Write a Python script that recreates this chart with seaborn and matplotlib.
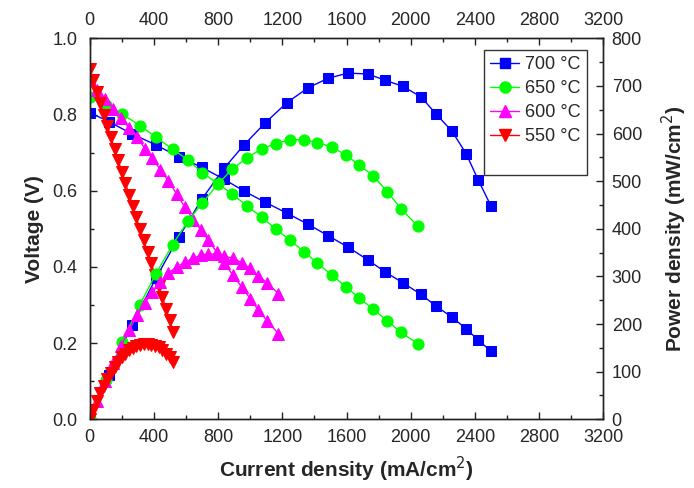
import pandas as pd
import seaborn as sns
import matplotlib.pyplot as plt
from matplotlib.lines import Line2D
from matplotlib.ticker import MultipleLocator

# current density (mA/cm2), voltage (V) and power density (mW/cm2) per temperature
i_700 = [0, 120, 264, 413, 556, 700, 837, 961, 1092, 1229, 1360, 1485, 1609, 1734, 1840,
         1952, 2064, 2158, 2257, 2345, 2420, 2500]
v_700 = [0.805, 0.781, 0.749, 0.720, 0.689, 0.661, 0.630, 0.599, 0.570, 0.541, 0.512, 0.482,
         0.452, 0.418, 0.387, 0.358, 0.328, 0.297, 0.268, 0.238, 0.208, 0.179]
p_700 = [0, 94, 198, 297, 383, 463, 527, 576, 622, 665, 696, 716, 727, 725, 712, 699, 677,
         641, 605, 558, 503, 448]

i_650 = [0, 100, 203, 313, 413, 517, 611, 702, 798, 888, 978, 1072, 1161, 1248, 1335, 1418,
         1508, 1595, 1680, 1767, 1854, 1940, 2045]
v_650 = [0.847, 0.825, 0.801, 0.771, 0.740, 0.709, 0.681, 0.647, 0.619, 0.591, 0.561, 0.530,
         0.499, 0.470, 0.440, 0.410, 0.379, 0.348, 0.318, 0.289, 0.258, 0.228, 0.198]
p_650 = [0, 83, 163, 241, 306, 367, 416, 454, 494, 525, 549, 568, 579, 587, 587, 581, 572,
         555, 534, 511, 478, 442, 405]

i_600 = [0, 45, 95, 145, 195, 245, 295, 345, 390, 440, 490, 542, 594, 645, 692, 739, 791,
         837, 891, 947, 999, 1050, 1107, 1175]
v_600 = [0.89, 0.865, 0.84, 0.815, 0.79, 0.765, 0.74, 0.71, 0.685, 0.655, 0.626, 0.591,
         0.556, 0.524, 0.498, 0.47, 0.439, 0.410, 0.379, 0.347, 0.317, 0.287, 0.258, 0.225]
p_600 = [0, 39, 80, 118, 154, 187, 218, 245, 267, 288, 307, 320, 330, 338, 345, 347, 347,
         343, 338, 329, 317, 301, 286, 264]

i_550 = [0, 22, 44, 66, 88, 110, 132, 155, 177, 200, 222, 245, 268, 290, 313, 336, 360, 383,
         406, 430, 453, 476, 499, 521]
v_550 = [0.92, 0.89, 0.86, 0.83, 0.80, 0.77, 0.74, 0.71, 0.68, 0.65, 0.62, 0.59, 0.56, 0.53,
         0.50, 0.47, 0.44, 0.41, 0.38, 0.35, 0.32, 0.29, 0.26, 0.23]
p_550 = [0, 20, 38, 55, 70, 85, 98, 110, 120, 130, 138, 145, 150, 154, 157, 158, 158, 157,
         154, 151, 145, 138, 130, 120]

labels = ['700 °C', '650 °C', '600 °C', '550 °C']
colors = ['#0000ff', '#00ff00', '#ff00ff', '#ff0000']
markers = ['s', 'o', '^', 'v']
msizes = [7, 8, 8, 8]

series = [(i_700, v_700, p_700), (i_650, v_650, p_650), (i_600, v_600, p_600), (i_550, v_550, p_550)]

sns.set_style('ticks')
plt.rcParams['font.family'] = ['Liberation Sans', 'DejaVu Sans']
plt.rcParams['xtick.direction'] = 'in'
plt.rcParams['ytick.direction'] = 'in'

fig, ax = plt.subplots(figsize=(6.94, 4.88), dpi=100)
fig.subplots_adjust(left=0.1293, right=0.8693, top=0.9215, bottom=0.1408)
ax2 = ax.twinx()

handles = []
for (cur, volt, powr), lab, c, m, ms in zip(series, labels, colors, markers, msizes):
    df = pd.DataFrame({'current': cur, 'voltage': volt, 'power': powr})
    sns.lineplot(data=df, x='current', y='voltage', ax=ax, color=c, marker=m, markersize=ms,
                 markeredgecolor=c, linewidth=1, sort=False, legend=False)
    sns.lineplot(data=df, x='current', y='power', ax=ax2, color=c, marker=m, markersize=ms,
                 markeredgecolor=c, linewidth=1, sort=False, legend=False)
    handles.append(Line2D([], [], color=c, marker=m, markersize=ms, markeredgecolor=c,
                          linewidth=1, label=lab))
# blank row, the original legend box has empty space at the bottom
handles.append(Line2D([], [], linestyle='none', label=' '))

ax.set_xlim(0, 3200)
ax.set_ylim(0, 1.0)
ax2.set_ylim(0, 800)

ax.xaxis.set_major_locator(MultipleLocator(400))
ax.xaxis.set_minor_locator(MultipleLocator(200))
ax.yaxis.set_major_locator(MultipleLocator(0.2))
ax.yaxis.set_minor_locator(MultipleLocator(0.1))
ax2.yaxis.set_major_locator(MultipleLocator(100))
ax2.yaxis.set_minor_locator(MultipleLocator(50))
ax.yaxis.set_major_formatter(plt.FormatStrFormatter('%.1f'))

ax.tick_params(axis='x', which='both', top=True, labeltop=True)
ax.tick_params(which='major', length=5, width=1, labelsize=13, color='#222222')
ax.tick_params(which='minor', length=3, width=1, color='#222222')
ax.tick_params(axis='x', which='major', pad=7)
ax.tick_params(axis='y', which='major', pad=9)
ax2.tick_params(which='major', length=5, width=1, labelsize=13, color='#222222', pad=6)
ax2.tick_params(which='minor', length=3, width=1, color='#222222')

for a in (ax, ax2):
    for s in a.spines.values():
        s.set_visible(True)
        s.set_linewidth(1)
        s.set_color('#222222')

ax.set_xlabel('Current density (mA/cm$^2$)', fontsize=15, fontweight='bold', labelpad=6)
ax.set_ylabel('Voltage (V)', fontsize=15, fontweight='bold', labelpad=6)
ax2.set_ylabel('Power density (mW/cm$^2$)', fontsize=15, fontweight='bold', labelpad=13)

leg = ax2.legend(handles=handles, loc='upper right', bbox_to_anchor=(0.969, 0.969),
                 borderaxespad=0, fontsize=13, frameon=True, fancybox=False,
                 handlelength=1.6, borderpad=0.35, labelspacing=0.38, handletextpad=0.35)
leg.get_frame().set_edgecolor('black')
leg.get_frame().set_linewidth(1)

plt.savefig('out.png', dpi=100)
